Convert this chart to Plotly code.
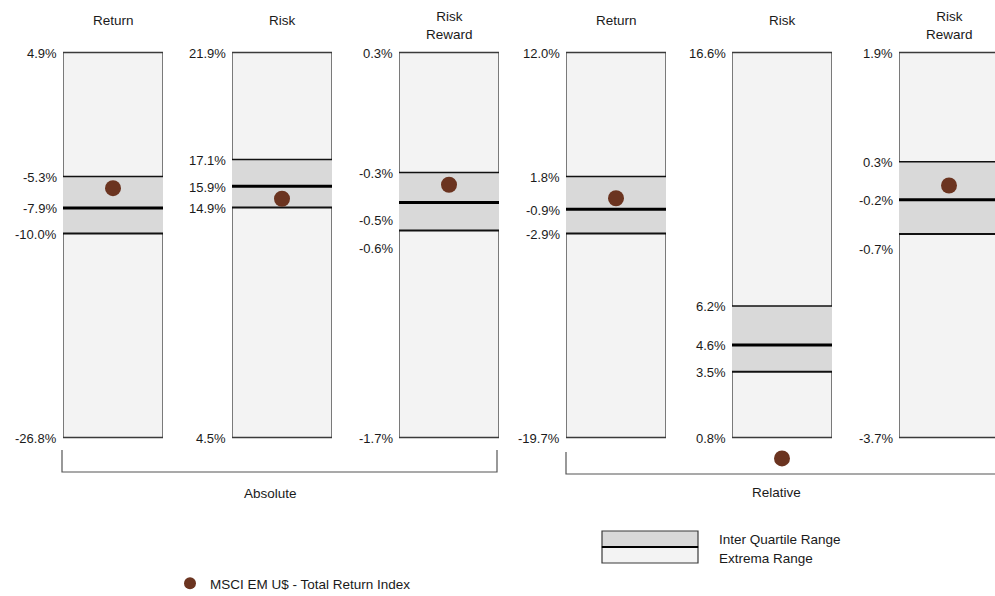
import plotly.graph_objects as go

# ---------------- data ----------------
panel_titles = ["Return", "Risk", "Risk<br>Reward", "Return", "Risk", "Risk<br>Reward"]
group_names = ["Absolute", "Relative"]
panel_group = [0, 0, 0, 1, 1, 1]

extrema_max = [4.9, 21.9, 0.3, 12.0, 16.6, 1.9]
quartile_3 = [-5.3, 17.06, -0.323, 1.8, 6.2, 0.31]
median_vals = [-7.9, 15.86, -0.479, -0.9, 4.6, -0.24]
quartile_1 = [-10.0, 14.9, -0.625, -2.9, 3.5, -0.74]
extrema_min = [-26.8, 4.5, -1.7, -19.7, 0.8, -3.7]
index_vals = [-6.27, 15.29, -0.387, 0.0, -0.06, -0.035]

index_name = "MSCI EM U$ - Total Return Index"
legend_iqr = "Inter Quartile Range"
legend_ext = "Extrema Range"

# ---------------- style / layout ----------------
W, H = 995, 596
FONT = "Liberation Sans, Arial, sans-serif"
TXT = "#1a1a1a"
DOT = "#6b3420"
EXT_FILL = "#f3f3f3"
IQR_FILL = "#d9d9d9"
BORDER = "#3a3a3a"
TEXT_DY = 1  # px nudge downward for text

box_left_px = [63, 232, 399, 566, 732, 899]
box_w_px = 100
box_top_px, box_bot_px = 52.5, 437.5
dom_top_px, dom_bot_px = 20, 485
label_yshift = {(2, "median"): -17, (2, "q1"): -17, (5, "q1"): -15}
bracket_px = [(62, 497, 450, 472), (566, 1000, 452, 474)]
group_label_px = [(270, 493), (776, 492)]

fig = go.Figure()
shapes = []
annotations = []


def py(p):
    return 1 - p / H


for i in range(6):
    n = "" if i == 0 else str(i + 1)
    xref, yref = "x" + n, "y" + n
    left = box_left_px[i]
    right = min(left + box_w_px, W)
    k = (box_bot_px - box_top_px) / (extrema_max[i] - extrema_min[i])
    lo = extrema_min[i] - (dom_bot_px - box_bot_px) / k
    hi = extrema_max[i] + (box_top_px - dom_top_px) / k
    fig.layout["xaxis" + n] = dict(domain=[left / W, right / W],
                                   range=[0, (right - left) / box_w_px],
                                   visible=False, fixedrange=True, anchor=yref)
    fig.layout["yaxis" + n] = dict(domain=[py(dom_bot_px), py(dom_top_px)],
                                   range=[lo, hi], visible=False, fixedrange=True,
                                   anchor=xref)

    # extrema box
    shapes.append(dict(type="rect", xref=xref, yref=yref, x0=0, x1=1,
                       y0=extrema_min[i], y1=extrema_max[i],
                       fillcolor=EXT_FILL, line=dict(color=BORDER, width=1.3),
                       layer="below"))
    # inter-quartile box
    shapes.append(dict(type="rect", xref=xref, yref=yref, x0=0, x1=1,
                       y0=quartile_1[i], y1=quartile_3[i],
                       fillcolor=IQR_FILL, line=dict(width=0), layer="below"))
    shapes.append(dict(type="line", xref=xref, yref=yref, x0=0, x1=1,
                       y0=quartile_3[i], y1=quartile_3[i],
                       line=dict(color="#111", width=1.5), layer="below"))
    shapes.append(dict(type="line", xref=xref, yref=yref, x0=0, x1=1,
                       y0=quartile_1[i], y1=quartile_1[i],
                       line=dict(color="#111", width=2), layer="below"))
    shapes.append(dict(type="line", xref=xref, yref=yref, x0=0, x1=1,
                       y0=median_vals[i], y1=median_vals[i],
                       line=dict(color="#000", width=3), layer="below"))

    # value labels
    for key, v in [("max", extrema_max[i]), ("q3", quartile_3[i]),
                   ("median", median_vals[i]), ("q1", quartile_1[i]),
                   ("min", extrema_min[i])]:
        annotations.append(dict(xref="paper", yref=yref, x=(left - 4) / W, y=v,
                                xanchor="right", yanchor="middle",
                                yshift=label_yshift.get((i, key), 0) - 1,
                                text=f"{v:.1f}%", showarrow=False,
                                font=dict(family=FONT, size=13, color=TXT)))

    # title
    nlines = panel_titles[i].count("<br>") + 1
    annotations.append(dict(xref="paper", yref="paper",
                            x=(left + box_w_px / 2) / W,
                            y=py(20 + 5 * (nlines - 1) + TEXT_DY),
                            xanchor="center", yanchor="middle",
                            text=panel_titles[i], showarrow=False,
                            font=dict(family=FONT, size=13.5, color=TXT)))

    # index marker
    fig.add_trace(go.Scatter(x=[0.5], y=[index_vals[i]], xaxis=xref, yaxis=yref,
                             mode="markers", cliponaxis=False,
                             marker=dict(size=16, color=DOT),
                             name=index_name, legendgroup="idx",
                             showlegend=(i == 0), hoverinfo="skip"))

# group brackets
for g, name in enumerate(group_names):
    x0, x1, yt, yb = bracket_px[g]
    path = (f"M {x0/W},{py(yt)} L {x0/W},{py(yb)} L {x1/W},{py(yb)} L {x1/W},{py(yt)}")
    shapes.append(dict(type="path", xref="paper", yref="paper", path=path,
                       line=dict(color="#555", width=1.2)))
    gx, gy = group_label_px[g]
    annotations.append(dict(xref="paper", yref="paper", x=gx / W, y=py(gy),
                            xanchor="center", yanchor="middle", text=name,
                            showarrow=False,
                            font=dict(family=FONT, size=13.5, color=TXT)))

# custom range legend
shapes.append(dict(type="rect", xref="paper", yref="paper",
                   x0=602 / W, x1=698 / W, y0=py(547), y1=py(531),
                   fillcolor=IQR_FILL, line=dict(color=BORDER, width=1.2)))
shapes.append(dict(type="rect", xref="paper", yref="paper",
                   x0=602 / W, x1=698 / W, y0=py(563), y1=py(547),
                   fillcolor=EXT_FILL, line=dict(color=BORDER, width=1.2)))
shapes.append(dict(type="line", xref="paper", yref="paper",
                   x0=602 / W, x1=698 / W, y0=py(547), y1=py(547),
                   line=dict(color="#000", width=2)))
annotations.append(dict(xref="paper", yref="paper", x=717 / W, y=py(539),
                        xanchor="left", yanchor="middle", text=legend_iqr,
                        showarrow=False, font=dict(family=FONT, size=13.5, color=TXT)))
annotations.append(dict(xref="paper", yref="paper", x=717 / W, y=py(558),
                        xanchor="left", yanchor="middle", text=legend_ext,
                        showarrow=False, font=dict(family=FONT, size=13.5, color=TXT)))

fig.update_layout(
    width=W, height=H,
    margin=dict(l=0, r=0, t=0, b=0, autoexpand=False),
    paper_bgcolor="white", plot_bgcolor="rgba(0,0,0,0)",
    shapes=shapes, annotations=annotations,
    showlegend=True,
    legend=dict(x=170 / W, y=py(568), xanchor="left", yanchor="top",
                bgcolor="rgba(0,0,0,0)", itemsizing="constant",
                font=dict(family=FONT, size=13.5, color=TXT)),
    font=dict(family=FONT, color=TXT),
)

fig.write_html("out.html", config={"displayModeBar": False, "staticPlot": True},
               post_script="document.body.style.margin='0';document.body.style.overflow='hidden';")
